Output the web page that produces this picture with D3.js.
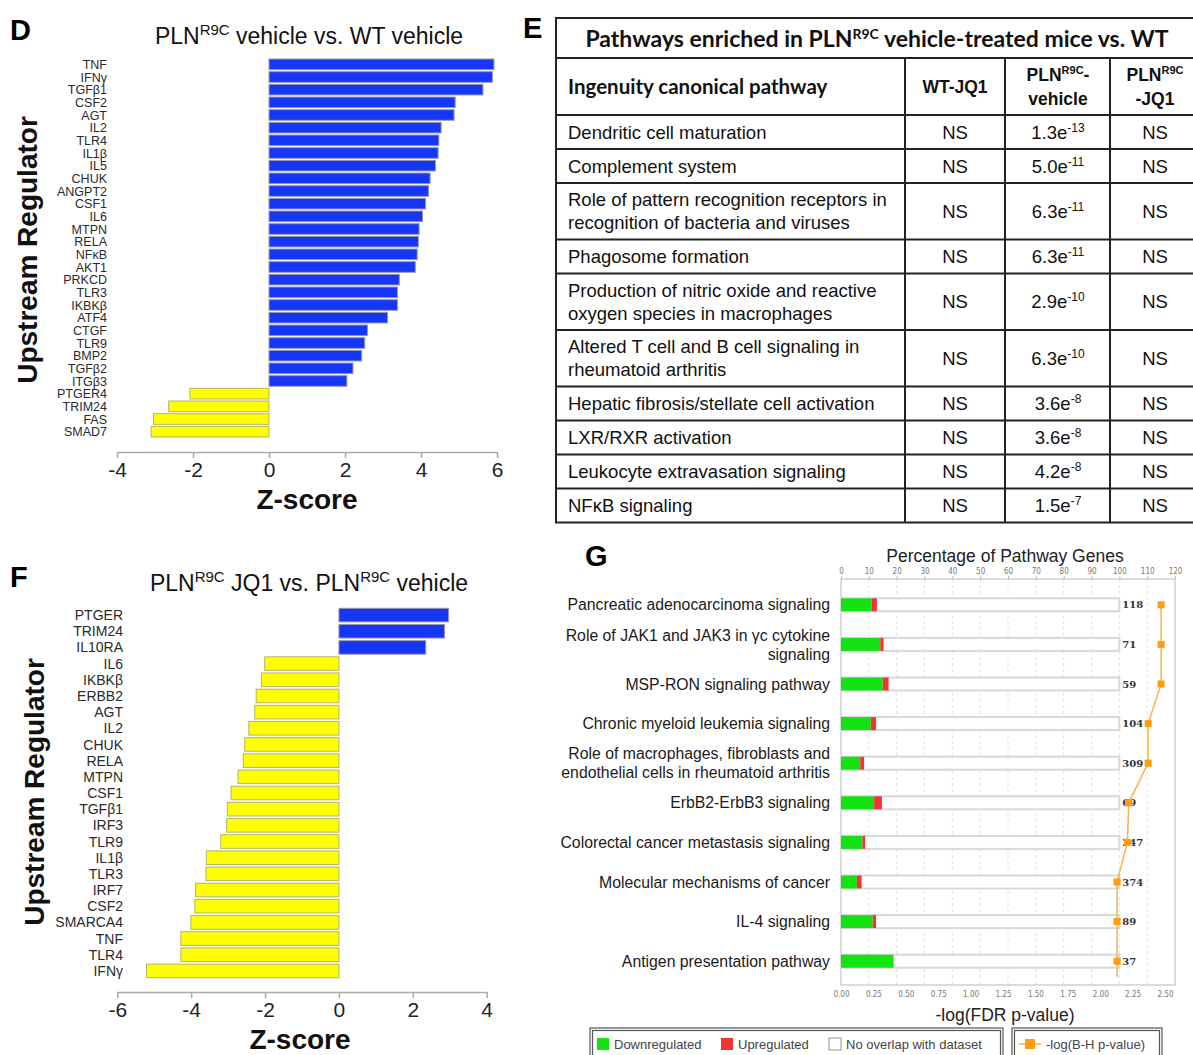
<!DOCTYPE html>
<html>
<head>
<meta charset="utf-8">
<script src="https://cdn.jsdelivr.net/npm/d3@7"></script>
<style>
  body { margin: 0; background: #fff; }
  svg { display: block; font-family: "Liberation Sans", Arial, sans-serif; }
</style>
</head>
<body>
<svg id="fig" width="1193" height="1055"></svg>
<script>
// ---- panel D data ----
var dRegulators = ["TNF","IFNγ","TGFβ1","CSF2","AGT","IL2","TLR4","IL1β","IL5","CHUK","ANGPT2","CSF1","IL6","MTPN","RELA","NFκB","AKT1","PRKCD","TLR3","IKBKβ","ATF4","CTGF","TLR9","BMP2","TGFβ2","ITGβ3","PTGER4","TRIM24","FAS","SMAD7"];
var dZscores = [5.92,5.88,5.63,4.90,4.87,4.53,4.47,4.45,4.38,4.24,4.20,4.12,4.04,3.95,3.93,3.90,3.85,3.43,3.38,3.38,3.12,2.59,2.52,2.44,2.21,2.05,-2.08,-2.64,-3.04,-3.10];
var dTicks = [-4,-2,0,2,4,6];

// ---- panel F data ----
var fRegulators = ["PTGER","TRIM24","IL10RA","IL6","IKBKβ","ERBB2","AGT","IL2","CHUK","RELA","MTPN","CSF1","TGFβ1","IRF3","TLR9","IL1β","TLR3","IRF7","CSF2","SMARCA4","TNF","TLR4","IFNγ"];
var fZscores = [2.97,2.86,2.35,-2.01,-2.10,-2.24,-2.28,-2.44,-2.55,-2.59,-2.73,-2.92,-3.02,-3.04,-3.20,-3.59,-3.60,-3.88,-3.90,-4.01,-4.28,-4.28,-5.21];
var fTicks = [-6,-4,-2,0,2,4];

// ---- panel E data ----
var tablePathways = [
  ["Dendritic cell maturation"],
  ["Complement system"],
  ["Role of pattern recognition receptors in", "recognition of bacteria and viruses"],
  ["Phagosome formation"],
  ["Production of nitric oxide and reactive", "oxygen species in macrophages"],
  ["Altered T cell and B cell signaling in", "rheumatoid arthritis"],
  ["Hepatic fibrosis/stellate cell activation"],
  ["LXR/RXR activation"],
  ["Leukocyte extravasation signaling"],
  ["NFκB signaling"]
];
var wtJq1 = ["NS","NS","NS","NS","NS","NS","NS","NS","NS","NS"];
var vehMantissa = ["1.3","5.0","6.3","6.3","2.9","6.3","3.6","3.6","4.2","1.5"];
var vehExponent = ["-13","-11","-11","-11","-10","-10","-8","-8","-8","-7"];
var plnJq1 = ["NS","NS","NS","NS","NS","NS","NS","NS","NS","NS"];

// ---- panel G data ----
var gPathways = [
  ["Pancreatic adenocarcinoma signaling"],
  ["Role of JAK1 and JAK3 in γc cytokine", "signaling"],
  ["MSP-RON signaling pathway"],
  ["Chronic myeloid leukemia signaling"],
  ["Role of macrophages, fibroblasts and", "endothelial cells in rheumatoid arthritis"],
  ["ErbB2-ErbB3 signaling"],
  ["Colorectal cancer metastasis signaling"],
  ["Molecular mechanisms of cancer"],
  ["IL-4 signaling"],
  ["Antigen presentation pathway"]
];
var gDown = [11.0,14.1,15.0,10.7,6.9,11.9,7.7,5.7,11.4,18.9];
var gUp = [1.9,1.2,2.1,1.9,1.4,2.8,1.0,1.7,1.2,0];
var gTotal = [118,71,59,104,309,69,247,374,89,37];
var gBH = [2.47,2.47,2.47,2.37,2.37,2.22,2.21,2.13,2.13,2.13];

var svg = d3.select("#fig");
var BLUE = "#1537f5", YELLOW = "#ffff00";

// writes text parts, raising {sup} pieces and dropping back after them
function richText(t, parts, size, supSize, rise) {
  var raised = false;
  parts.forEach(function (p) {
    if (p.sup) {
      t.append("tspan").attr("font-size", supSize).attr("dy", -rise).text(p.sup);
      raised = true;
    } else {
      t.append("tspan").attr("font-size", size).attr("dy", raised ? rise : 0).text(p.t);
      raised = false;
    }
  });
}

// ---------- shared bar chart (D and F) ----------
function zChart(o) {
  var x = d3.scaleLinear().domain(o.domain).range(o.xr);
  var y = d3.scaleBand().domain(o.names).range(o.yr).paddingInner(0.16).paddingOuter(0.08);
  var g = svg.append("g");

  g.selectAll(".bar").data(o.values).enter().append("rect")
    .attr("x", function (d) { return x(Math.min(0, d)); })
    .attr("y", function (d, i) { return y(o.names[i]); })
    .attr("width", function (d) { return Math.abs(x(d) - x(0)); })
    .attr("height", y.bandwidth())
    .attr("fill", function (d) { return d > 0 ? BLUE : YELLOW; })
    .attr("stroke", function (d) { return d > 0 ? "#9a9aaa" : "#b4b46a"; })
    .attr("stroke-width", 1);

  g.selectAll(".lab").data(o.names).enter().append("text")
    .attr("x", o.labelX)
    .attr("y", function (d) { return y(d) + y.bandwidth() / 2; })
    .attr("dy", "0.36em")
    .attr("text-anchor", "end")
    .attr("font-size", o.labelSize)
    .attr("fill", "#2a2a2a")
    .text(function (d) { return d; });

  var ax = g.append("g")
    .attr("transform", "translate(0," + o.axisY + ")")
    .call(d3.axisBottom(x).tickValues(o.ticks).tickFormat(function (d) { return String(d); })
      .tickSize(6).tickSizeOuter(0).tickPadding(4));
  ax.select(".domain").attr("stroke", "#aaa").attr("stroke-width", 1.5);
  ax.selectAll(".tick line").attr("stroke", "#aaa").attr("stroke-width", 1.5);
  ax.selectAll(".tick text").attr("font-size", 21).attr("fill", "#222")
    .attr("font-family", "Liberation Sans, Arial, sans-serif");

  g.append("text")
    .attr("x", o.zX).attr("y", o.axisY + 57)
    .attr("text-anchor", "middle")
    .attr("font-size", 28).attr("font-weight", "bold").attr("fill", "#111")
    .text("Z-score");

  g.append("text")
    .attr("transform", "translate(" + o.ylabX + "," + o.ylabY + ") rotate(-90)")
    .attr("text-anchor", "middle")
    .attr("font-size", 28).attr("font-weight", "bold").attr("fill", "#111")
    .text("Upstream Regulator");

  var t = g.append("text")
    .attr("x", o.titleX).attr("y", o.titleY)
    .attr("text-anchor", "middle").attr("fill", "#111");
  richText(t, o.title, 23, 15, 9);

  g.append("text").attr("x", 10).attr("y", o.letterY)
    .attr("font-size", 29).attr("font-weight", "bold").attr("fill", "#000")
    .text(o.letter);
}

zChart({
  names: dRegulators, values: dZscores, domain: [-4, 6], ticks: dTicks,
  xr: [117, 497], yr: [58, 438], labelX: 107, labelSize: 12.5, axisY: 452,
  zX: 307, ylabX: 37, ylabY: 250, titleX: 309, titleY: 44, letter: "D", letterY: 40,
  title: [{t: "PLN"}, {sup: "R9C"}, {t: " vehicle vs. WT vehicle"}]
});

zChart({
  names: fRegulators, values: fZscores, domain: [-6, 4], ticks: fTicks,
  xr: [117.3, 486.7], yr: [607, 979], labelX: 123, labelSize: 14, axisY: 992,
  zX: 300, ylabX: 44, ylabY: 792, titleX: 309, titleY: 591, letter: "F", letterY: 587,
  title: [{t: "PLN"}, {sup: "R9C"}, {t: " JQ1 vs. PLN"}, {sup: "R9C"}, {t: " vehicle"}]
});

// ---------- panel E: table ----------
(function () {
  var g = svg.append("g");
  var cols = [556, 905, 1005, 1110, 1205];
  var top = 18, titleBottom = 58, headBottom = 115;
  var rowY = [headBottom];
  tablePathways.forEach(function (p) { rowY.push(rowY[rowY.length - 1] + (p.length > 1 ? 56.5 : 34)); });
  var bottom = rowY[rowY.length - 1];

  g.append("text").attr("x", 523).attr("y", 38)
    .attr("font-size", 29).attr("font-weight", "bold").text("E");

  g.append("rect").attr("x", cols[0]).attr("y", top)
    .attr("width", cols[4] - cols[0]).attr("height", bottom - top)
    .attr("fill", "none").attr("stroke", "#222").attr("stroke-width", 2);
  [titleBottom].concat(rowY.slice(0, -1)).forEach(function (yy) {
    g.append("line").attr("x1", cols[0]).attr("x2", cols[4]).attr("y1", yy).attr("y2", yy)
      .attr("stroke", "#222").attr("stroke-width", 2);
  });
  cols.slice(1, 4).forEach(function (xx) {
    g.append("line").attr("x1", xx).attr("x2", xx).attr("y1", titleBottom).attr("y2", bottom)
      .attr("stroke", "#222").attr("stroke-width", 2);
  });

  var title = g.append("text").attr("x", 877).attr("y", 47)
    .attr("text-anchor", "middle").attr("font-family", "Lato, sans-serif")
    .attr("font-weight", "bold").attr("fill", "#111");
  richText(title, [{t: "Pathways enriched in PLN"}, {sup: "R9C"}, {t: " vehicle-treated mice vs. WT"}], 23, 14, 8);

  // header
  g.append("text").attr("x", 568).attr("y", 94)
    .attr("font-family", "Lato, sans-serif").attr("font-weight", "bold")
    .attr("font-size", 20.5).attr("fill", "#111").text("Ingenuity canonical pathway");
  function head(cx, lines) {
    lines.forEach(function (ln, i) {
      var t = g.append("text").attr("x", cx).attr("y", lines.length > 1 ? 81 + i * 24 : 93)
        .attr("text-anchor", "middle").attr("font-weight", "bold").attr("fill", "#111");
      richText(t, ln, 17.5, 11, 7);
    });
  }
  head(955, [[{t: "WT-JQ1"}]]);
  head(1058, [[{t: "PLN"}, {sup: "R9C"}, {t: "-"}], [{t: "vehicle"}]]);
  head(1155, [[{t: "PLN"}, {sup: "R9C"}], [{t: "-JQ1"}]]);

  tablePathways.forEach(function (lines, i) {
    var cy = (rowY[i] + rowY[i + 1]) / 2;
    lines.forEach(function (ln, k) {
      g.append("text").attr("x", 568)
        .attr("y", cy + (lines.length > 1 ? (k === 0 ? -11.5 : 11.5) : 0))
        .attr("dy", "0.36em").attr("font-size", 18.5).attr("fill", "#111").text(ln);
    });
    g.append("text").attr("x", 955).attr("y", cy).attr("dy", "0.36em")
      .attr("text-anchor", "middle").attr("font-size", 18.5).attr("fill", "#111").text(wtJq1[i]);
    var v = g.append("text").attr("x", 1058).attr("y", cy + 6.6)
      .attr("text-anchor", "middle").attr("fill", "#111");
    richText(v, [{t: vehMantissa[i] + "e"}, {sup: vehExponent[i]}], 18.5, 12, 7);
    g.append("text").attr("x", 1155).attr("y", cy).attr("dy", "0.36em")
      .attr("text-anchor", "middle").attr("font-size", 18.5).attr("fill", "#111").text(plnJq1[i]);
  });
})();

// ---------- panel G ----------
(function () {
  var g = svg.append("g");
  var frame = {x0: 841, x1: 1175, y0: 579, y1: 985};
  var pct = d3.scaleLinear().domain([0, 120]).range([frame.x0, frame.x1]);
  var bh = d3.scaleLinear().domain([0, 2.5]).range([frame.x0, 1165]);
  var idx = d3.range(gPathways.length);
  var y = d3.scaleBand().domain(idx).range([585, 981]);
  var barH = 13;
  var cy = function (i) { return y(i) + y.bandwidth() / 2; };

  g.append("text").attr("x", 585).attr("y", 566)
    .attr("font-size", 29).attr("font-weight", "bold").text("G");
  g.append("text").attr("x", 1005).attr("y", 562).attr("text-anchor", "middle")
    .attr("font-size", 17.5).attr("fill", "#222").text("Percentage of Pathway Genes");

  // grid
  g.selectAll(".grid").data(d3.range(10, 120, 10)).enter().append("line")
    .attr("x1", function (d) { return pct(d); }).attr("x2", function (d) { return pct(d); })
    .attr("y1", frame.y0).attr("y2", frame.y1)
    .attr("stroke", "#e2e2e2").attr("stroke-dasharray", "3,3");
  g.append("rect").attr("x", frame.x0).attr("y", frame.y0)
    .attr("width", frame.x1 - frame.x0).attr("height", frame.y1 - frame.y0)
    .attr("fill", "none").attr("stroke", "#cfcfcf").attr("stroke-width", 1.5);

  var topAx = g.append("g").attr("transform", "translate(0," + frame.y0 + ")")
    .call(d3.axisTop(pct).tickValues(d3.range(0, 121, 10)).tickSize(3).tickPadding(2));
  var botAx = g.append("g").attr("transform", "translate(0," + frame.y1 + ")")
    .call(d3.axisBottom(bh).tickValues(d3.range(0, 2.51, 0.25)).tickFormat(d3.format(".2f"))
      .tickSize(0).tickPadding(6));
  [topAx, botAx].forEach(function (a) {
    a.select(".domain").remove();
    a.selectAll(".tick line").attr("stroke", "#bbb");
    a.selectAll(".tick text").attr("font-size", 8).attr("fill", "#777")
      .attr("font-family", "DejaVu Sans Condensed, Liberation Sans Narrow, sans-serif");
  });

  // bars
  g.selectAll(".box").data(idx).enter().append("rect")
    .attr("x", pct(0)).attr("y", function (i) { return cy(i) - barH / 2; })
    .attr("width", pct(100) - pct(0)).attr("height", barH)
    .attr("fill", "#fff").attr("stroke", "#d8d8d8").attr("stroke-width", 2);
  g.selectAll(".dn").data(idx).enter().append("rect")
    .attr("x", pct(0)).attr("y", function (i) { return cy(i) - barH / 2; })
    .attr("width", function (i) { return pct(gDown[i]) - pct(0); }).attr("height", barH)
    .attr("fill", "#13e213");
  g.selectAll(".up").data(idx).enter().append("rect")
    .attr("x", function (i) { return pct(gDown[i]); }).attr("y", function (i) { return cy(i) - barH / 2; })
    .attr("width", function (i) { return pct(gDown[i] + gUp[i]) - pct(gDown[i]); }).attr("height", barH)
    .attr("fill", "#f43434");
  g.selectAll(".tot").data(idx).enter().append("text")
    .attr("x", pct(100) + 3).attr("y", cy).attr("dy", "0.36em")
    .attr("font-family", "DejaVu Serif, Liberation Serif, serif").attr("font-weight", "bold")
    .attr("font-size", 10).attr("fill", "#333")
    .text(function (i) { return gTotal[i]; });

  // labels
  gPathways.forEach(function (lines, i) {
    lines.forEach(function (ln, k) {
      g.append("text").attr("x", 830)
        .attr("y", cy(i) + (lines.length > 1 ? (k === 0 ? -9.5 : 9.5) : 0))
        .attr("dy", "0.36em").attr("text-anchor", "end")
        .attr("font-size", 15.8).attr("fill", "#1a1a1a").text(ln);
    });
  });

  // -log(B-H) line
  var pts = idx.map(function (i) { return [bh(gBH[i]), cy(i)]; });
  pts.push([bh(gBH[gBH.length - 1]), frame.y1 - 8]);
  g.append("path").attr("d", d3.line()(pts))
    .attr("fill", "none").attr("stroke", "#f8b24e").attr("stroke-width", 1.5);
  g.selectAll(".mk").data(idx).enter().append("rect")
    .attr("x", function (i) { return bh(gBH[i]) - 3.5; }).attr("y", function (i) { return cy(i) - 3.5; })
    .attr("width", 7).attr("height", 7).attr("fill", "#ff9d12");

  g.append("text").attr("x", 1005).attr("y", 1021).attr("text-anchor", "middle")
    .attr("font-size", 17.5).attr("fill", "#222").text("-log(FDR p-value)");

  // legend
  function box(x0, x1) {
    g.append("rect").attr("x", x0).attr("y", 1028).attr("width", x1 - x0).attr("height", 40)
      .attr("fill", "none").attr("stroke", "#555").attr("stroke-width", 1.2);
    g.append("rect").attr("x", x0 + 2.5).attr("y", 1030.5).attr("width", x1 - x0 - 5).attr("height", 40)
      .attr("fill", "none").attr("stroke", "#555").attr("stroke-width", 1.2);
  }
  box(590, 1003);
  box(1012, 1162);
  var items = [
    {x: 597, fill: "#13e213", stroke: "none", t: "Downregulated"},
    {x: 721, fill: "#f43434", stroke: "none", t: "Upregulated"},
    {x: 829, fill: "#fff", stroke: "#999", t: "No overlap with dataset"}
  ];
  items.forEach(function (it) {
    g.append("rect").attr("x", it.x).attr("y", 1038).attr("width", 12).attr("height", 12)
      .attr("fill", it.fill).attr("stroke", it.stroke);
    g.append("text").attr("x", it.x + 17).attr("y", 1044).attr("dy", "0.36em")
      .attr("font-size", 13).attr("fill", "#444").text(it.t);
  });
  g.append("line").attr("x1", 1019).attr("x2", 1041).attr("y1", 1044).attr("y2", 1044)
    .attr("stroke", "#f8b24e").attr("stroke-width", 1.5);
  g.append("rect").attr("x", 1025).attr("y", 1039).attr("width", 10).attr("height", 10).attr("fill", "#ff9d12");
  g.append("text").attr("x", 1046).attr("y", 1044).attr("dy", "0.36em")
    .attr("font-size", 13).attr("fill", "#444").text("-log(B-H p-value)");
})();
</script>
</body>
</html>
